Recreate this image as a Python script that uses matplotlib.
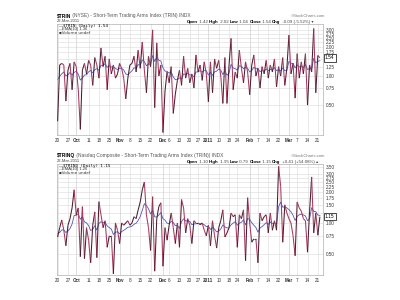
import matplotlib
matplotlib.use('Agg')
import matplotlib.pyplot as plt
import numpy as np
import pandas as pd
from matplotlib.collections import LineCollection
from matplotlib.ticker import NullLocator

# ---------------- data ----------------
start_date = '2010-09-20'
end_date = '2011-03-22'
market_holidays = ['2010-11-25', '2010-12-24', '2011-01-17', '2011-02-21']

trin_nyse = [
    0.34, 1.30, 1.35, 1.30, 0.55, 1.15, 1.35, 0.72, 1.40, 1.25,
    0.72, 0.28, 1.15, 1.35, 1.05, 1.45, 1.30, 0.80, 1.55, 1.30,
    0.95, 1.95, 1.25, 1.60, 0.72, 1.50, 1.05, 1.30, 0.95, 1.05,
    1.35, 1.20, 0.95, 0.58, 0.95, 1.30, 1.35, 1.60, 1.10, 1.85,
    1.20, 2.25, 1.15, 0.67, 1.60, 1.25, 3.00, 0.47, 2.20, 1.00,
    1.30, 0.26, 0.70, 1.10, 0.85, 1.25, 0.41, 0.65, 0.90, 1.15,
    0.80, 1.60, 0.95, 1.20, 0.85, 1.05, 0.75, 1.65, 1.10, 1.30,
    0.90, 1.40, 1.05, 0.54, 1.40, 0.67, 1.50, 1.20, 1.45, 1.00,
    0.52, 1.55, 0.52, 1.30, 2.45, 0.72, 1.10, 0.95, 1.85, 1.20,
    0.85, 1.40, 1.10, 0.64, 1.30, 1.65, 1.00, 1.20, 0.75, 1.25,
    1.05, 1.45, 0.95, 1.30, 1.10, 1.50, 0.77, 1.25, 1.00, 1.55,
    0.80, 1.20, 2.65, 1.05, 1.35, 0.59, 1.70, 0.95, 1.40, 1.05,
    1.70, 0.50, 1.30, 1.10, 3.10, 0.67, 1.63, 1.54,
]

trin_nasdaq = [
    0.73, 0.90, 1.07, 0.85, 0.60, 0.95, 1.10, 1.40, 2.10, 1.20,
    1.40, 0.47, 1.44, 0.45, 0.90, 0.68, 0.41, 0.95, 1.28, 0.46,
    1.61, 1.20, 0.90, 1.05, 0.58, 0.75, 0.75, 0.32, 1.00, 0.85,
    0.63, 1.00, 0.95, 1.00, 1.05, 0.95, 1.00, 1.15, 1.10, 1.34,
    1.60, 2.10, 2.50, 1.20, 0.90, 0.54, 1.80, 0.34, 1.10, 1.44,
    1.57, 0.38, 0.90, 0.68, 0.95, 1.25, 0.90, 0.63, 1.00, 0.58,
    1.69, 1.40, 0.80, 1.10, 0.95, 0.63, 1.05, 1.00, 1.00, 0.96,
    1.00, 0.85, 0.75, 0.95, 0.60, 1.05, 0.75, 0.57, 0.90, 1.05,
    1.34, 0.73, 0.80, 0.90, 1.25, 1.15, 1.20, 0.58, 1.20, 1.10,
    1.34, 0.43, 1.76, 1.00, 0.65, 0.70, 0.70, 0.41, 1.25, 1.05,
    1.15, 1.20, 0.80, 1.25, 0.85, 1.05, 0.85, 3.55, 2.27, 0.65,
    1.50, 1.25, 1.10, 1.00, 0.75, 0.48, 1.60, 1.40, 1.30, 1.10,
    1.05, 0.52, 1.30, 2.80, 0.80, 1.25, 0.76, 1.15,
]

ema_seed_nyse = 1.05
ema_seed_nasdaq = 0.80

tick_dates = ['2010-09-20', '2010-09-27', '2010-10-01', '2010-10-11', '2010-10-18',
              '2010-10-25', '2010-11-01', '2010-11-08', '2010-11-15', '2010-11-22',
              '2010-12-01', '2010-12-06', '2010-12-13', '2010-12-20', '2010-12-27',
              '2011-01-03', '2011-01-10', '2011-01-18', '2011-01-24', '2011-02-01',
              '2011-02-07', '2011-02-14', '2011-02-22', '2011-03-01', '2011-03-07',
              '2011-03-14', '2011-03-21']
tick_labels = ['20', '27', 'Oct', '11', '18', '25', 'Nov', '8', '15', '22',
               'Dec', '6', '13', '20', '27', '2011', '10', '18', '24', 'Feb',
               '7', '14', '22', 'Mar', '7', '14', '21']
bold_labels = ['Oct', 'Nov', 'Dec', '2011', 'Feb', 'Mar']

yticks_nyse = [0.50, 0.75, 1.00, 1.25, 1.50, 1.75, 2.00, 2.25, 2.50, 2.75, 3.00]
yticks_nasdaq = [0.50, 0.75, 1.00, 1.25, 1.50, 1.75, 2.00, 2.25, 2.50, 2.75, 3.00, 3.50]

# ---------------- helpers ----------------
W, H = 400.0, 300.0
FONT = ['Liberation Sans', 'DejaVu Sans']
plt.rcParams['font.family'] = FONT

UP_COLOR = '#4a1c30'
DOWN_COLOR = '#a8365c'
EMA_COLOR = '#5555b5'

days = pd.bdate_range(start_date, end_date)
days = days[~days.isin(pd.to_datetime(market_holidays))]
tick_idx = [int(days.get_loc(pd.Timestamp(d))) for d in tick_dates]

fig = plt.figure(figsize=(4, 3), dpi=100)
fig.patch.set_facecolor('white')


def fx(px):
    return px / W


def fy(py):
    return 1 - py / H


def ema(values, seed, span=10):
    a = 2.0 / (span + 1)
    out = []
    prev = seed
    for v in values:
        prev = a * v + (1 - a) * prev
        out.append(prev)
    return np.array(out)


def ylim_pos(ylim, val):
    lo, hi = ylim
    return (np.log(val) - np.log(lo)) / (np.log(hi) - np.log(lo))


def panel(top_px, bot_px, values, seed, ylim, yticks, last_label):
    height_px = bot_px - top_px
    ax = fig.add_axes([fx(57), fy(bot_px), fx(323) - fx(57), fy(top_px) - fy(bot_px)])
    v = np.array(values)
    x = np.arange(len(v))
    ax.set_yscale('log')
    ax.set_xlim(-0.3, 128.5)
    ax.set_ylim(*ylim)
    for t in yticks:
        ax.axhline(t, color='#e2e2e2', lw=0.5, zorder=0)
    for i, lab in zip(tick_idx, tick_labels):
        ax.axvline(i, color='#cfcfcf' if lab in bold_labels else '#e2e2e2', lw=0.5, zorder=0)
    pts = np.column_stack([x, v])
    segs = np.stack([pts[:-1], pts[1:]], axis=1)
    cols = [UP_COLOR if v[k + 1] >= v[k] else DOWN_COLOR for k in range(len(v) - 1)]
    ax.add_collection(LineCollection(segs, colors=cols, linewidths=0.75, zorder=3))
    ax.plot(x, ema(v, seed), color=EMA_COLOR, lw=0.6, zorder=2)
    ax.yaxis.tick_right()
    box_pos = ylim_pos(ylim, last_label)
    shown = [t for t in yticks
             if abs(ylim_pos(ylim, t) - box_pos) * height_px > 4.5]
    ax.set_yticks(yticks)
    ax.set_yticklabels(['%.2f' % t if t in shown else '' for t in yticks])
    ax.yaxis.set_minor_locator(NullLocator())
    ax.set_xticks(tick_idx)
    ax.set_xticklabels(tick_labels)
    for lab in ax.get_xticklabels():
        if lab.get_text() in bold_labels:
            lab.set_fontweight('bold')
    ax.tick_params(axis='both', length=0, labelsize=3.3, colors='#333333', pad=2)
    for s in ax.spines.values():
        s.set_color('#b0b0b0')
        s.set_linewidth(0.5)
    ax.text(1.007, box_pos, '%.2f' % last_label, transform=ax.transAxes,
            fontsize=3.4, va='center', ha='left', zorder=10, clip_on=False,
            bbox=dict(boxstyle='square,pad=0.25', fc='white', ec='black', lw=0.5))
    return ax


overlay = fig.add_axes([0, 0, 1, 1])
overlay.axis('off')
overlay.set_zorder(20)


def chain(x_px, y_px, pieces, size):
    prev = None
    for s, w, c in pieces:
        if prev is None:
            prev = overlay.text(fx(x_px), fy(y_px), s, fontsize=size, fontweight=w,
                                color=c, va='center', ha='left', transform=overlay.transAxes)
        else:
            prev = overlay.annotate(s, xy=(1, 0), xycoords=prev, fontsize=size,
                                    fontweight=w, color=c, va='bottom', ha='left')
    return prev


def header(top_px, symbol, desc, ohlc, legend_sym, daily, emav):
    chain(57, top_px - 8, [(symbol, 'bold', 'black'), (desc, 'normal', '#555555')], 3.5)
    overlay.text(fx(325), fy(top_px - 8), '\u00a9StockCharts.com', fontsize=3.0,
                 color='#777777', ha='right', va='center', transform=overlay.transAxes)
    overlay.text(fx(57), fy(top_px - 2.5), '22-Mar-2011', fontsize=3.0, color='#444444',
                 ha='left', va='center', transform=overlay.transAxes)
    pieces = []
    for name, val in ohlc:
        pieces.append((name, 'bold', 'black'))
        pieces.append((' ' + val + ' ', 'normal', '#444444'))
    chain(187, top_px - 2.3, pieces, 3.2)
    overlay.text(fx(59), fy(top_px + 2), '\u2014', fontsize=3.0, color='black',
                 ha='left', va='center', transform=overlay.transAxes)
    overlay.text(fx(63), fy(top_px + 2), legend_sym + ' (Daily) ' + daily, fontsize=3.0,
                 family='DejaVu Sans Mono', color='black', ha='left', va='center',
                 transform=overlay.transAxes)
    overlay.text(fx(59), fy(top_px + 5.3), '\u2014', fontsize=3.0, color=EMA_COLOR,
                 ha='left', va='center', transform=overlay.transAxes)
    overlay.text(fx(62), fy(top_px + 5.3), 'EMA(10) ' + emav, fontsize=3.0, color='#333333',
                 ha='left', va='center', transform=overlay.transAxes)
    overlay.text(fx(59), fy(top_px + 8.6), '\u25aaVolume undef', fontsize=3.0,
                 color='#333333', ha='left', va='center', transform=overlay.transAxes,
                 family=['DejaVu Sans'])


# ---------------- panels ----------------
panel(24, 135, trin_nyse, ema_seed_nyse, (0.245, 3.45), yticks_nyse, trin_nyse[-1])
panel(164, 275, trin_nasdaq, ema_seed_nasdaq, (0.312, 3.74), yticks_nasdaq, trin_nasdaq[-1])

header(24, '$TRIN', ' (NYSE) - Short-Term Trading Arms Index (TRIN) INDX',
       [('Open', '1.42'), ('High', '2.02'), ('Low', '1.04'), ('Close', '1.54'),
        ('Chg', '-0.09 (-5.52%) \u25be')], '$TRIN', '1.54', '1.36')
header(164, '$TRINQ', ' (Nasdaq Composite - Short-Term Trading Arms Index (TRIN)) INDX',
       [('Open', '1.10'), ('High', '1.95'), ('Low', '0.79'), ('Close', '1.15'),
        ('Chg', '+0.41 (+54.08%) \u25b4')], '$TRINQ', '1.15', '1.26')

fig.savefig('out.png', dpi=100, facecolor='white')
